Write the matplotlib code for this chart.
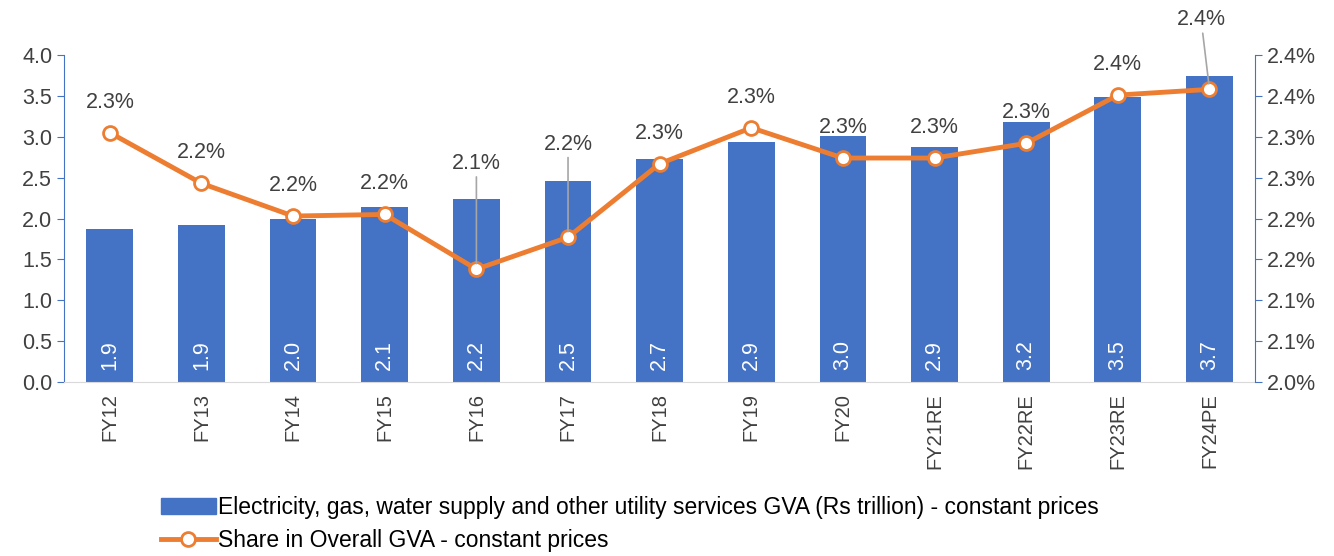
import matplotlib

matplotlib.use("Agg")
import matplotlib.pyplot as plt
from matplotlib.lines import Line2D
from matplotlib.patches import Patch

plt.rcParams["font.family"] = ["Liberation Sans", "DejaVu Sans"]

years = ["FY12", "FY13", "FY14", "FY15", "FY16", "FY17", "FY18", "FY19",
         "FY20", "FY21RE", "FY22RE", "FY23RE", "FY24PE"]
gva = [1.87, 1.92, 2.00, 2.14, 2.24, 2.46, 2.73, 2.94, 3.01, 2.88, 3.18, 3.49, 3.74]
share = [2.305, 2.243, 2.203, 2.205, 2.138, 2.177, 2.267, 2.311, 2.274, 2.274,
         2.292, 2.351, 2.358]

BLUE = "#4472C4"
ORANGE = "#ED7D31"
TXT = "#404040"

# label offsets above each point (points); a few have leader lines
lab_dy = [22, 22, 22, 22, 76, 67, 22, 22, 22, 22, 22, 22, 50]
lab_dx = [0, 0, 0, 0, 0, 0, 0, 0, 0, 0, 0, 0, -6]
leader = [False, False, False, False, True, True, False, False, False, False,
          False, False, True]

fig = plt.figure(figsize=(13.34, 5.56), dpi=100)
ax = fig.add_axes([0.048, 0.313, 0.893, 0.588])
ax2 = ax.twinx()

x = list(range(len(years)))
ax.bar(x, gva, width=0.51, color=BLUE, zorder=2)
for xi, v in zip(x, gva):
    ax.text(xi, 0.33, f"{v:.1f}", rotation=90, ha="center", va="center",
            color="white", fontsize=15.5)

ax.set_xlim(-0.5, len(years) - 0.5)
ax.set_ylim(0, 4.0)
ax.set_yticks([i * 0.5 for i in range(9)])
ax.set_yticklabels([f"{i * 0.5:.1f}" for i in range(9)])
ax.set_xticks(x)
ax.set_xticklabels(years, rotation=90)
ax.tick_params(axis="x", length=0, labelsize=14.5, labelcolor=TXT, pad=8)
ax.tick_params(axis="y", length=5, color=BLUE, labelsize=15.5, labelcolor=TXT)
for s in ["top", "right"]:
    ax.spines[s].set_visible(False)
ax.spines["left"].set_color(BLUE)
ax.spines["bottom"].set_color("#D9D9D9")

ax2.plot(x, share, color=ORANGE, lw=3.5, marker="o", ms=10,
         mfc="white", mec=ORANGE, mew=2, zorder=3)
ax2.set_ylim(2.0, 2.4)
rt = [2.0 + i * 0.05 for i in range(9)]
ax2.set_yticks(rt)
ax2.set_yticklabels([f"{round(v + 1e-9, 1):.1f}%" for v in rt])
ax2.tick_params(axis="y", length=5, color=BLUE, labelsize=15.5, labelcolor=TXT)
for s in ["top", "left", "bottom"]:
    ax2.spines[s].set_visible(False)
ax2.spines["right"].set_color(BLUE)

for xi, v, dy, dx, ld in zip(x, share, lab_dy, lab_dx, leader):
    props = dict(arrowstyle="-", color="#A6A6A6", lw=1.2,
                 shrinkA=0, shrinkB=4) if ld else None
    ax2.annotate(f"{round(v + 1e-9, 1):.1f}%", xy=(xi, v),
                 xytext=(dx, dy), textcoords="offset points",
                 ha="center", va="center", fontsize=15.5, color=TXT,
                 arrowprops=props, zorder=4)

handles = [Patch(color=BLUE),
           Line2D([], [], color=ORANGE, lw=3.5, marker="o", ms=10,
                  mfc="white", mec=ORANGE, mew=2)]
labels = ["Electricity, gas, water supply and other utility services GVA "
          "(Rs trillion) - constant prices",
          "Share in Overall GVA - constant prices"]
fig.legend(handles, labels, loc="lower left", bbox_to_anchor=(0.105, -0.03),
           frameon=False, fontsize=16.5, handlelength=2.4, handletextpad=0.1,
           labelspacing=0.42, labelcolor="black")

fig.savefig("out.png", dpi=100, facecolor="white")
